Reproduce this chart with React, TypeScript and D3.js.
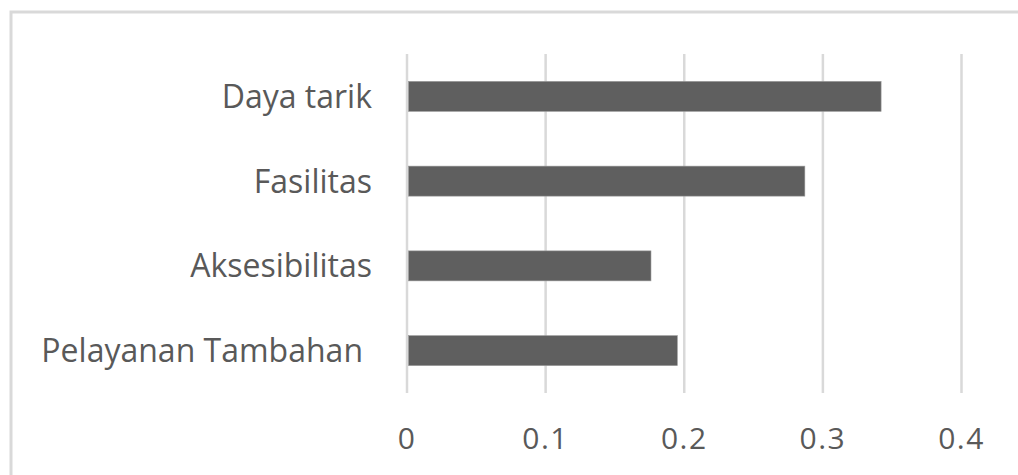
import React from "react";
import * as d3 from "d3";

const categories = ["Daya tarik", "Fasilitas", "Aksesibilitas", "Pelayanan Tambahan"];
const values = [0.342, 0.287, 0.176, 0.195];
const tickValues = [0, 0.1, 0.2, 0.3, 0.4];
const tickLabels = ["0", "0.1", "0.2", "0.3", "0.4"];

const W = 1018;
const H = 475;
const plot = { left: 407, right: 961.5, top: 54, bottom: 393 };
const font = "'Open Sans', 'Noto Sans', sans-serif";
const textColor = "#595959";
const gridColor = "#d9d9d9";
const barColor = "#5f5f5f";

export default function App() {
  const x = d3.scaleLinear().domain([0, 0.4]).range([plot.left, plot.right]);
  const y = d3
    .scaleBand<string>()
    .domain(categories)
    .range([plot.top, plot.bottom])
    .paddingInner(0.646)
    .paddingOuter(0.323);

  return (
    <svg
      width={W}
      height={H}
      style={{ position: "absolute", left: 0, top: 0, background: "#fff" }}
    >
      {/* chart frame */}
      <rect x={11} y={12} width={W + 20} height={H + 20} fill="#fff" stroke={gridColor} strokeWidth={3} />

      {/* vertical gridlines */}
      {tickValues.map((t) => (
        <line
          key={"g" + t}
          x1={x(t)}
          x2={x(t)}
          y1={plot.top}
          y2={plot.bottom}
          stroke={gridColor}
          strokeWidth={2.5}
        />
      ))}

      {/* bars */}
      {categories.map((c, i) => (
        <rect
          key={c}
          x={x(0) + 1.5}
          y={y(c)}
          width={x(values[i]) - x(0) - 1.5}
          height={y.bandwidth()}
          fill={barColor}
          stroke="#9a9a9a"
          strokeWidth={0.6}
        />
      ))}

      {/* category labels */}
      {categories.map((c) => (
        <text
          key={"l" + c}
          x={c === "Pelayanan Tambahan" ? x(0) - 44 : x(0) - 35}
          y={(y(c) as number) + y.bandwidth() / 2}
          dy="0.36em"
          textAnchor="end"
          fontFamily={font}
          fontSize={32}
          fill={textColor}
        >
          {c}
        </text>
      ))}

      {/* x tick labels */}
      {tickValues.map((t, i) => (
        <text
          key={"t" + t}
          x={x(t)}
          y={449}
          textAnchor="middle"
          fontFamily={font}
          fontSize={30}
          letterSpacing={1.5}
          fill={textColor}
        >
          {tickLabels[i]}
        </text>
      ))}
    </svg>
  );
}
